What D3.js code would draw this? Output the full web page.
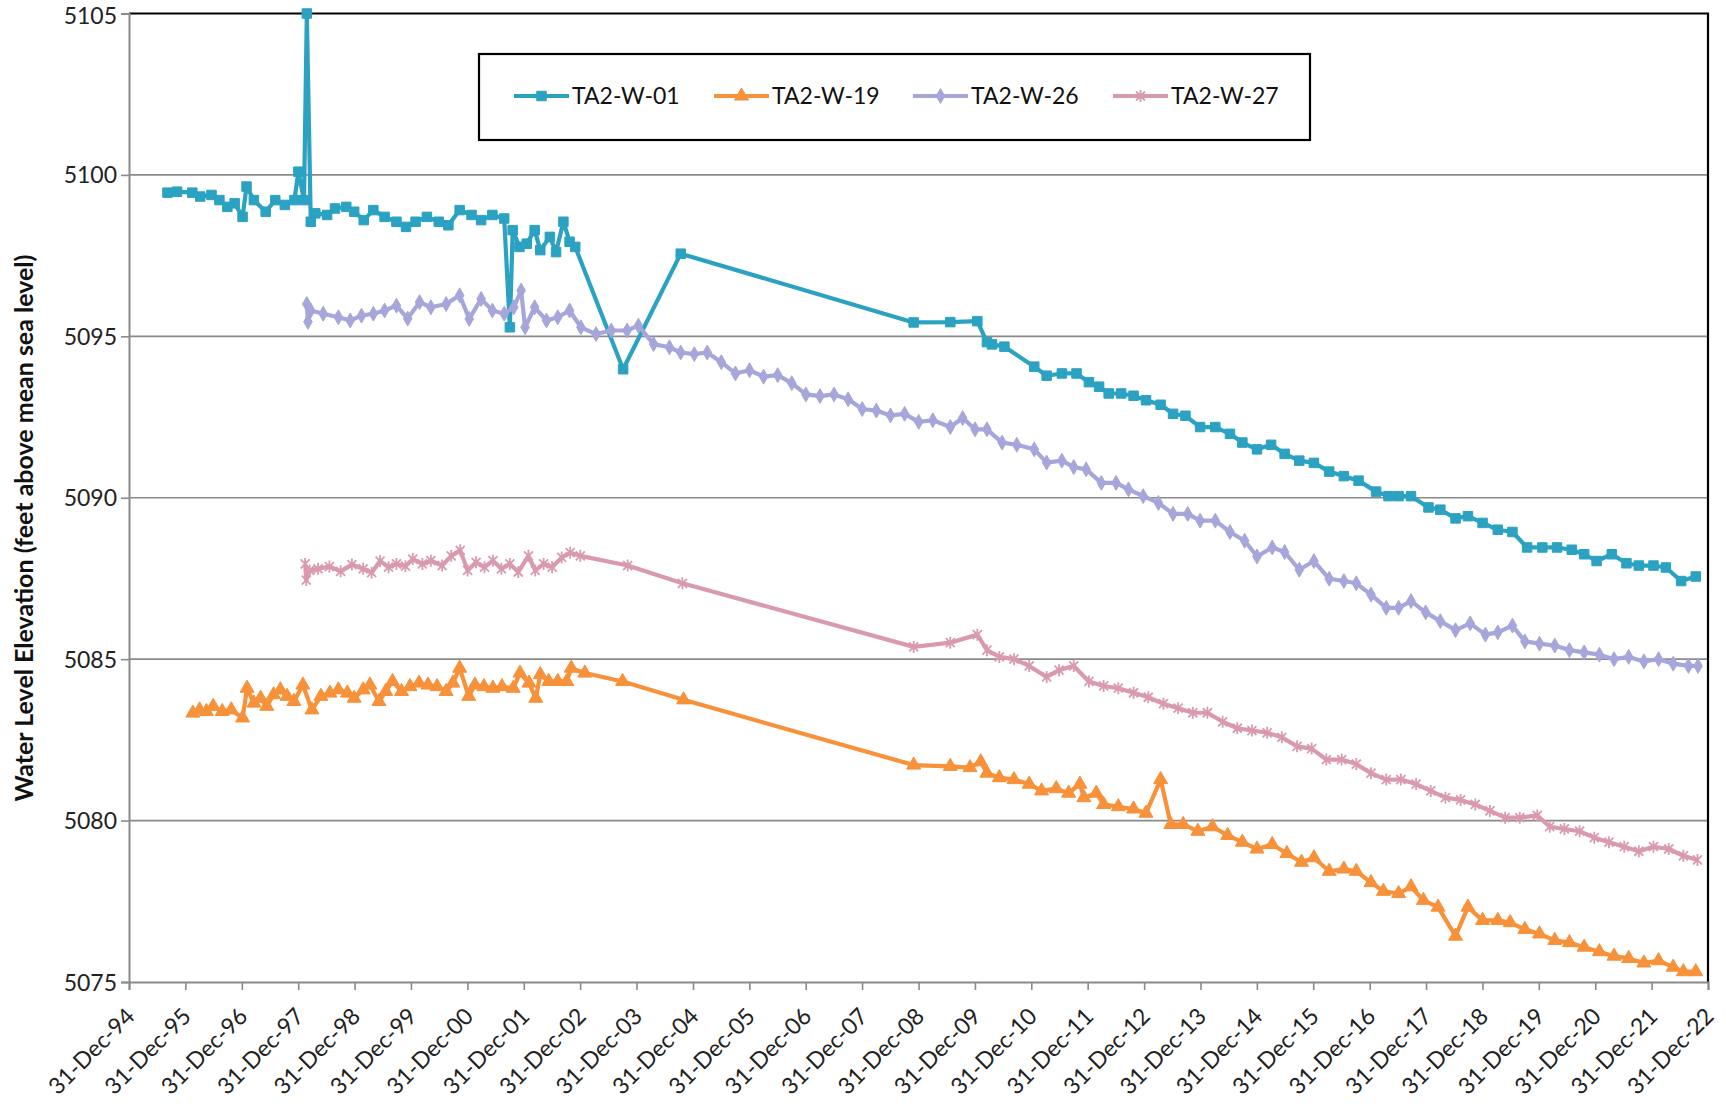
<!DOCTYPE html>
<html><head><meta charset="utf-8">
<script src="https://cdn.jsdelivr.net/npm/d3@7"></script>
<style>body{margin:0;background:#fff}svg{display:block}</style>
</head><body>
<svg id="chart" width="1726" height="1110"></svg>
<script>
// ---------------- data ----------------
const seriesNames = ["TA2-W-01", "TA2-W-19", "TA2-W-26", "TA2-W-27"];
const seriesColors = ["#2BA2C1", "#F7913A", "#A6A6DA", "#D99AAE"];
const yTicks = [5075, 5080, 5085, 5090, 5095, 5100, 5105];
const xTickYears = [1994,1995,1996,1997,1998,1999,2000,2001,2002,2003,2004,2005,2006,2007,2008,2009,2010,2011,2012,2013,2014,2015,2016,2017,2018,2019,2020,2021,2022];
const xTickLabels = ["31-Dec-94","31-Dec-95","31-Dec-96","31-Dec-97","31-Dec-98","31-Dec-99","31-Dec-00","31-Dec-01","31-Dec-02","31-Dec-03","31-Dec-04","31-Dec-05","31-Dec-06","31-Dec-07","31-Dec-08","31-Dec-09","31-Dec-10","31-Dec-11","31-Dec-12","31-Dec-13","31-Dec-14","31-Dec-15","31-Dec-16","31-Dec-17","31-Dec-18","31-Dec-19","31-Dec-20","31-Dec-21","31-Dec-22"];

// TA2-W-01 (decimal year, feet)
const w01Years = [1995.68,1995.85,1996.12,1996.26,1996.46,1996.60,1996.74,1996.87,1997.01,1997.08,1997.21,1997.42,1997.59,1997.76,1997.93,1998.00,1998.10,1998.15,1998.22,1998.30,1998.51,1998.65,1998.85,1998.99,1999.16,1999.33,1999.53,1999.74,1999.91,2000.08,2000.28,2000.49,2000.66,2000.86,2001.07,2001.24,2001.44,2001.65,2001.75,2001.80,2001.92,2002.05,2002.19,2002.29,2002.46,2002.57,2002.70,2002.81,2002.91,2003.76,2004.78,2008.91,2009.56,2010.04,2010.21,2010.30,2010.52,2011.05,2011.27,2011.54,2011.80,2012.02,2012.20,2012.37,2012.59,2012.81,2013.03,2013.29,2013.51,2013.73,2013.99,2014.26,2014.52,2014.74,2015.00,2015.25,2015.49,2015.75,2016.01,2016.28,2016.54,2016.80,2017.11,2017.33,2017.51,2017.73,2018.04,2018.25,2018.52,2018.74,2019.00,2019.27,2019.53,2019.79,2020.06,2020.32,2020.58,2020.80,2021.02,2021.29,2021.55,2021.77,2022.03,2022.25,2022.52,2022.78];
const w01Levels = [5099.45,5099.48,5099.45,5099.33,5099.38,5099.22,5099.01,5099.12,5098.70,5099.64,5099.22,5098.86,5099.22,5099.07,5099.22,5100.10,5099.22,5105.00,5098.55,5098.81,5098.76,5098.96,5099.01,5098.86,5098.60,5098.91,5098.70,5098.55,5098.39,5098.55,5098.70,5098.55,5098.44,5098.91,5098.76,5098.60,5098.76,5098.65,5095.28,5098.29,5097.77,5097.87,5098.29,5097.67,5098.08,5097.61,5098.55,5097.93,5097.77,5093.98,5097.56,5095.43,5095.44,5095.47,5094.82,5094.75,5094.68,5094.06,5093.78,5093.85,5093.85,5093.58,5093.44,5093.23,5093.23,5093.16,5093.02,5092.88,5092.60,5092.54,5092.19,5092.19,5091.98,5091.71,5091.50,5091.64,5091.36,5091.15,5091.08,5090.81,5090.67,5090.53,5090.19,5090.05,5090.05,5090.05,5089.70,5089.63,5089.36,5089.43,5089.22,5089.01,5088.94,5088.46,5088.46,5088.46,5088.39,5088.25,5088.04,5088.25,5087.97,5087.90,5087.90,5087.84,5087.42,5087.56];

// TA2-W-19
const w19Years = [1996.13,1996.25,1996.37,1996.49,1996.65,1996.81,1997.01,1997.09,1997.21,1997.33,1997.44,1997.56,1997.68,1997.80,1997.92,1998.08,1998.24,1998.40,1998.56,1998.71,1998.87,1998.99,1999.15,1999.27,1999.43,1999.55,1999.67,1999.83,1999.98,2000.14,2000.30,2000.46,2000.62,2000.74,2000.86,2001.02,2001.13,2001.29,2001.45,2001.61,2001.81,2001.93,2002.09,2002.21,2002.29,2002.44,2002.60,2002.76,2002.84,2003.08,2003.75,2004.83,2008.91,2009.56,2009.91,2010.10,2010.21,2010.43,2010.69,2010.96,2011.18,2011.44,2011.66,2011.86,2011.93,2012.15,2012.28,2012.54,2012.81,2013.03,2013.29,2013.47,2013.69,2013.95,2014.21,2014.48,2014.74,2015.00,2015.27,2015.53,2015.79,2016.01,2016.28,2016.54,2016.76,2017.02,2017.24,2017.51,2017.73,2017.95,2018.21,2018.52,2018.74,2019.00,2019.27,2019.49,2019.75,2020.01,2020.28,2020.54,2020.80,2021.07,2021.33,2021.59,2021.86,2022.12,2022.38,2022.56,2022.78];
const w19Levels = [5083.33,5083.43,5083.38,5083.54,5083.38,5083.43,5083.18,5084.10,5083.64,5083.79,5083.54,5083.90,5084.05,5083.85,5083.69,5084.20,5083.43,5083.85,5083.95,5084.05,5083.95,5083.79,5084.05,5084.20,5083.69,5084.00,5084.31,5084.00,5084.15,5084.26,5084.20,5084.15,5084.00,5084.26,5084.72,5083.85,5084.20,5084.15,5084.10,5084.15,5084.10,5084.57,5084.26,5083.79,5084.52,5084.31,5084.31,5084.31,5084.72,5084.57,5084.31,5083.74,5081.72,5081.68,5081.64,5081.82,5081.47,5081.33,5081.27,5081.13,5080.92,5080.99,5080.85,5081.13,5080.71,5080.85,5080.50,5080.43,5080.36,5080.23,5081.27,5079.88,5079.88,5079.67,5079.81,5079.54,5079.33,5079.12,5079.26,5078.98,5078.71,5078.85,5078.43,5078.50,5078.43,5078.08,5077.81,5077.74,5077.95,5077.53,5077.32,5076.42,5077.32,5076.91,5076.91,5076.84,5076.63,5076.49,5076.29,5076.22,5076.08,5075.94,5075.80,5075.73,5075.59,5075.66,5075.46,5075.32,5075.32];

// TA2-W-26
const w26Years = [1998.15,1998.17,1998.22,1998.44,1998.71,1998.92,1999.12,1999.33,1999.53,1999.74,1999.94,2000.15,2000.35,2000.62,2000.86,2001.03,2001.24,2001.44,2001.65,2001.82,2001.95,2002.02,2002.19,2002.40,2002.60,2002.81,2003.01,2003.28,2003.55,2003.83,2004.03,2004.30,2004.58,2004.78,2005.02,2005.25,2005.50,2005.75,2006.00,2006.25,2006.50,2006.75,2007.00,2007.25,2007.50,2007.75,2008.00,2008.25,2008.50,2008.75,2009.00,2009.25,2009.56,2009.78,2010.00,2010.21,2010.48,2010.74,2011.05,2011.27,2011.54,2011.75,2011.97,2012.24,2012.50,2012.72,2012.98,2013.25,2013.51,2013.77,2013.99,2014.26,2014.52,2014.78,2015.00,2015.27,2015.49,2015.75,2016.01,2016.28,2016.54,2016.76,2017.02,2017.29,2017.51,2017.73,2017.99,2018.25,2018.52,2018.78,2019.05,2019.27,2019.53,2019.75,2020.01,2020.28,2020.54,2020.80,2021.07,2021.33,2021.59,2021.86,2022.12,2022.38,2022.65,2022.82];
const w26Levels = [5096.00,5095.45,5095.80,5095.70,5095.59,5095.49,5095.64,5095.70,5095.80,5095.95,5095.55,5096.06,5095.90,5096.00,5096.27,5095.54,5096.16,5095.80,5095.70,5095.90,5096.42,5095.28,5095.90,5095.49,5095.59,5095.80,5095.28,5095.07,5095.18,5095.18,5095.33,5094.76,5094.66,5094.50,5094.45,5094.50,5094.20,5093.85,5093.95,5093.75,5093.80,5093.55,5093.20,5093.15,5093.20,5093.05,5092.75,5092.70,5092.55,5092.60,5092.35,5092.40,5092.19,5092.47,5092.12,5092.12,5091.71,5091.64,5091.50,5091.09,5091.15,5090.95,5090.88,5090.46,5090.46,5090.26,5090.05,5089.84,5089.50,5089.50,5089.29,5089.29,5088.94,5088.67,5088.18,5088.46,5088.32,5087.77,5088.04,5087.49,5087.42,5087.35,5087.00,5086.59,5086.59,5086.80,5086.45,5086.18,5085.90,5086.11,5085.76,5085.83,5086.04,5085.55,5085.48,5085.42,5085.28,5085.21,5085.14,5085.00,5085.07,5084.93,5085.00,5084.86,5084.79,5084.79];

// TA2-W-27
const w27Years = [1998.12,1998.14,1998.20,1998.35,1998.55,1998.75,1998.95,1999.15,1999.30,1999.45,1999.60,1999.74,1999.90,2000.03,2000.20,2000.35,2000.55,2000.71,2000.87,2001.00,2001.15,2001.30,2001.45,2001.60,2001.75,2001.90,2002.08,2002.20,2002.35,2002.50,2002.67,2002.82,2003.00,2003.84,2004.81,2008.91,2009.56,2010.04,2010.21,2010.43,2010.69,2010.96,2011.27,2011.49,2011.75,2012.02,2012.28,2012.54,2012.81,2013.07,2013.34,2013.60,2013.86,2014.12,2014.39,2014.65,2014.91,2015.18,2015.44,2015.71,2015.97,2016.23,2016.50,2016.76,2017.02,2017.29,2017.55,2017.82,2018.08,2018.34,2018.61,2018.87,2019.13,2019.40,2019.66,2019.97,2020.19,2020.45,2020.72,2020.98,2021.24,2021.51,2021.77,2022.03,2022.30,2022.56,2022.81];
const w27Levels = [5087.95,5087.45,5087.75,5087.80,5087.87,5087.72,5087.93,5087.80,5087.68,5088.04,5087.85,5087.95,5087.88,5088.10,5087.95,5088.05,5087.90,5088.20,5088.37,5087.75,5088.00,5087.85,5088.05,5087.80,5087.95,5087.70,5088.20,5087.75,5087.95,5087.85,5088.15,5088.30,5088.20,5087.90,5087.35,5085.38,5085.51,5085.76,5085.28,5085.07,5085.00,5084.79,5084.45,5084.66,5084.79,5084.31,5084.17,5084.10,5083.96,5083.82,5083.62,5083.48,5083.34,5083.34,5083.06,5082.86,5082.79,5082.72,5082.58,5082.30,5082.23,5081.89,5081.89,5081.75,5081.47,5081.27,5081.27,5081.13,5080.92,5080.71,5080.64,5080.50,5080.30,5080.09,5080.09,5080.16,5079.81,5079.74,5079.67,5079.47,5079.33,5079.19,5079.05,5079.19,5079.12,5078.91,5078.78];

// ---------------- helpers ----------------
function decToDate(y) {
  const yr = Math.floor(y);
  const a = new Date(yr, 0, 1), b = new Date(yr + 1, 0, 1);
  return new Date(+a + (y - yr) * (b - a));
}
const series = [
  {name: seriesNames[0], color: seriesColors[0], marker: "square", pts: w01Years.map((y, i) => [decToDate(y), w01Levels[i]])},
  {name: seriesNames[1], color: seriesColors[1], marker: "triangle", pts: w19Years.map((y, i) => [decToDate(y), w19Levels[i]])},
  {name: seriesNames[2], color: seriesColors[2], marker: "diamond", pts: w26Years.map((y, i) => [decToDate(y), w26Levels[i]])},
  {name: seriesNames[3], color: seriesColors[3], marker: "star", pts: w27Years.map((y, i) => [decToDate(y), w27Levels[i]])}
];

// ---------------- layout ----------------
const L = 129, R = 1708, T = 13.5, B = 982;
const FONT = "Lato, 'Open Sans', sans-serif";
const svg = d3.select("#chart");
svg.append("rect").attr("width", 1726).attr("height", 1110).attr("fill", "#fff");

const x = d3.scaleTime()
  .domain([new Date(xTickYears[0], 11, 31), new Date(xTickYears[xTickYears.length - 1], 11, 31)])
  .range([L, R]);
const y = d3.scaleLinear().domain([yTicks[0], yTicks[yTicks.length - 1]]).range([B, T]);

// gridlines
svg.append("g").selectAll("line").data(yTicks.slice(1, -1)).join("line")
  .attr("x1", L).attr("x2", R).attr("y1", d => y(d)).attr("y2", d => y(d))
  .attr("stroke", "#8a8a8a").attr("stroke-width", 1.6);

// plot border (top/right black)
svg.append("path").attr("d", `M${L},${T}H${R}V${B}`).attr("fill", "none")
  .attr("stroke", "#000").attr("stroke-width", 2.2);

// y axis
const yAxis = d3.axisLeft(y).tickValues(yTicks).tickSize(8).tickPadding(4).tickFormat(d3.format("d"));
const gy = svg.append("g").attr("transform", `translate(${L},0)`).call(yAxis);
gy.select(".domain").attr("stroke", "#8a8a8a").attr("stroke-width", 2);
gy.selectAll(".tick line").attr("stroke", "#8a8a8a").attr("stroke-width", 1.6);
gy.selectAll(".tick text").attr("font-family", FONT).attr("font-size", 23).attr("fill", "#222")
  .attr("dy", d => d === yTicks[yTicks.length - 1] ? "0.42em" : "0.35em");

// x axis
const tickDates = xTickYears.map(yr => new Date(yr, 11, 31));
const xAxis = d3.axisBottom(x).tickValues(tickDates).tickSize(8).tickFormat((d, i) => xTickLabels[i]);
const gx = svg.append("g").attr("transform", `translate(0,${B})`).call(xAxis);
gx.select(".domain").attr("stroke", "#8a8a8a").attr("stroke-width", 2);
gx.selectAll(".tick line").attr("stroke", "#8a8a8a").attr("stroke-width", 1.6);
gx.selectAll(".tick text")
  .attr("font-family", FONT).attr("font-size", 23).attr("fill", "#222")
  .attr("text-anchor", "end").attr("y", 0).attr("dy", "0.35em")
  .attr("transform", "translate(1,30) rotate(-45)");

// y title
svg.append("text")
  .attr("transform", "translate(24,528) rotate(-90)")
  .attr("text-anchor", "middle").attr("dy", "0.35em")
  .attr("font-family", FONT).attr("font-weight", "bold").attr("font-size", 25).attr("fill", "#111")
  .text("Water Level Elevation (feet above mean sea level)");

// markers
function markerPath(type) {
  if (type === "square") return d3.symbol(d3.symbolSquare, 90)();
  if (type === "triangle") return d3.symbol(d3.symbolTriangle, 85)();
  if (type === "diamond") return d3.symbol(d3.symbolDiamond, 64)();
  return "M-4.5,-4.5L4.5,4.5M-4.5,4.5L4.5,-4.5M0,-6L0,6";
}

// series
const line = d3.line().x(d => x(d[0])).y(d => y(d[1]));
series.forEach(s => {
  const g = svg.append("g");
  g.append("path").datum(s.pts).attr("d", line).attr("fill", "none")
    .attr("stroke", s.color).attr("stroke-width", 4.2).attr("stroke-linejoin", "round");
  const mp = markerPath(s.marker);
  g.selectAll("path.m").data(s.pts).join("path").attr("class", "m")
    .attr("transform", d => `translate(${x(d[0])},${y(d[1])})`)
    .attr("d", mp)
    .attr("fill", s.marker === "star" ? "none" : s.color)
    .attr("stroke", s.color).attr("stroke-width", s.marker === "star" ? 1.8 : 1);
});

// legend
const lg = svg.append("g");
lg.append("rect").attr("x", 479).attr("y", 54).attr("width", 831).attr("height", 86)
  .attr("fill", "#fff").attr("stroke", "#000").attr("stroke-width", 2.2);
const legendX = [514, 714, 913, 1113];
series.forEach((s, i) => {
  const gx0 = legendX[i], gy0 = 96;
  lg.append("line").attr("x1", gx0).attr("x2", gx0 + 55).attr("y1", gy0).attr("y2", gy0)
    .attr("stroke", s.color).attr("stroke-width", 4.2);
  lg.append("path").attr("transform", `translate(${gx0 + 27.5},${gy0})`).attr("d", markerPath(s.marker))
    .attr("fill", s.marker === "star" ? "none" : s.color).attr("stroke", s.color)
    .attr("stroke-width", s.marker === "star" ? 1.8 : 1);
  lg.append("text").attr("x", gx0 + 58).attr("y", gy0).attr("dy", "0.36em")
    .attr("font-family", FONT).attr("font-size", 23).attr("fill", "#111").text(s.name);
});
</script>
</body></html>
